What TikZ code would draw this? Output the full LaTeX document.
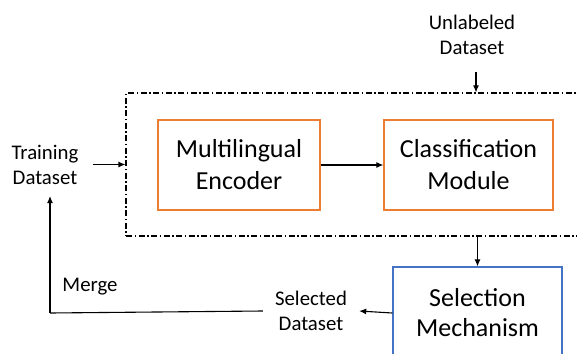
\documentclass[tikz,border=0pt]{standalone}
\usepackage{fontspec}
\setmainfont{Carlito}
\usetikzlibrary{arrows.meta,calc}
\definecolor{boxorange}{RGB}{237,125,49}
\definecolor{boxblue}{RGB}{68,114,196}
\tikzset{
  arr/.style={draw=black, line width=1.1pt, -{Latex[length=7pt,width=6pt]}},
  plain/.style={draw=black, line width=1.1pt},
  modbox/.style={draw=boxorange, line width=1.3pt, align=center, inner sep=0pt,
    font=\fontsize{26}{32}\selectfont},
  selbox/.style={draw=boxblue, line width=1.3pt, align=center, inner sep=0pt,
    font=\fontsize{26}{30}\selectfont},
  lbl/.style={align=center, inner sep=0pt, font=\fontsize{20.8}{25}\selectfont},
  frame/.style={draw=black, line width=1.1pt, dash pattern=on 6pt off 2.5pt on 1.5pt off 2.5pt}
}
\begin{document}
\begin{tikzpicture}[x=1pt,y=-1pt]
\useasboundingbox (0,0) rectangle (577,353);
\clip (0,0) rectangle (577,353);
% dashed frame (extends past right edge)
\node[frame, minimum width=470pt, minimum height=143pt, inner sep=0pt] (frm) at (361,164.5) {};
% modules
\node[modbox, minimum width=162pt, minimum height=90pt] (enc) at (239,165) {Multilingual\\Encoder};
\node[modbox, minimum width=169pt, minimum height=90pt] (cls) at (468.5,165) {Classification\\Module};
\node[selbox, minimum width=169pt, minimum height=92pt] (sel) at (477.5,313) {Selection\\Mechanism};
% labels
\node[lbl] (train) at (45,164.5) {Training\\Dataset};
\node[lbl] (unl) at (472,34.5) {Unlabeled\\Dataset};
\node[lbl, minimum width=96pt] (seld) at (311,311) {Selected\\Dataset};
\node[lbl, anchor=base] (merge) at (90,291) {Merge};
% connectors
\coordinate (tin) at ($(frm.west)+(-32,0)$);
\draw[arr] (tin) -- (frm.west);
\coordinate (uin) at (476,72);
\draw[arr] (uin) -- (uin |- frm.north);
\draw[arr] (enc.east) -- (cls.west);
\draw[arr] (sel.north |- frm.south) -- (sel.north);
\draw[arr] (sel.west) -- (seld.east);
\coordinate (mcorner) at (50,313);
\coordinate (mtop) at (50,196);
\draw[plain] (seld.west) -- (mcorner);
\draw[arr] (mcorner) -- (mtop);
\end{tikzpicture}
\end{document}
